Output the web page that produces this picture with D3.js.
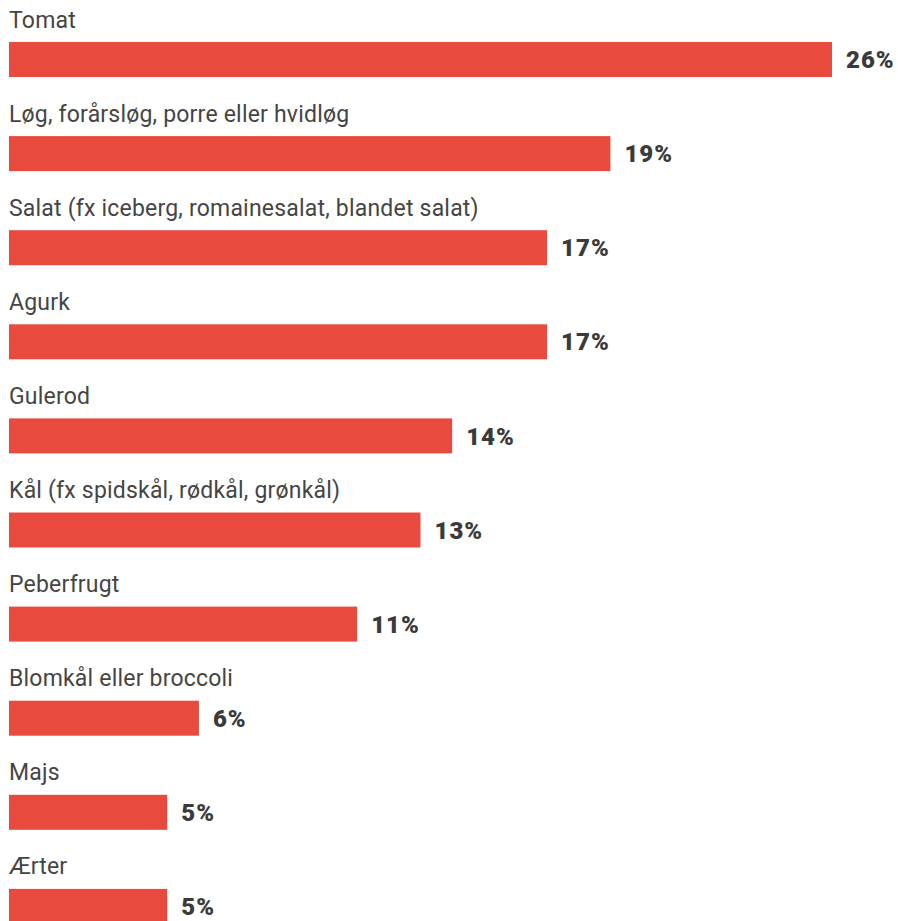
<!DOCTYPE html>
<html>
<head>
<meta charset="utf-8">
<script src="https://cdn.jsdelivr.net/npm/d3@7"></script>
<style>
  html, body { margin: 0; padding: 0; background: #fff; overflow: hidden; }
  svg { display: block; }
</style>
</head>
<body>
<svg id="chart" width="898" height="921"></svg>
<script>
// Vegetables and the share of respondents naming each one
const categories = [
  "Tomat",
  "Løg, forårsløg, porre eller hvidløg",
  "Salat (fx iceberg, romainesalat, blandet salat)",
  "Agurk",
  "Gulerod",
  "Kål (fx spidskål, rødkål, grønkål)",
  "Peberfrugt",
  "Blomkål eller broccoli",
  "Majs",
  "Ærter"
];
const values = [26, 19, 17, 17, 14, 13, 11, 6, 5, 5];
const valueLabels = ["26%", "19%", "17%", "17%", "14%", "13%", "11%", "6%", "5%", "5%"];

const svg = d3.select("#chart");
const font = "Roboto, 'Noto Sans', sans-serif";

const x = d3.scaleLinear().domain([0, 26]).range([9, 832]);
const y = d3.scaleBand().domain(categories).range([0, 941]);

const rows = svg.selectAll("g.row")
  .data(categories.map((c, i) => ({ c, v: values[i], lbl: valueLabels[i] })))
  .join("g")
  .attr("class", "row")
  .attr("transform", d => `translate(0,${y(d.c)})`);

rows.append("text")
  .attr("x", 9)
  .attr("y", 27.5)
  .attr("fill", "#454545")
  .style("font-family", font)
  .style("font-size", "23px")
  .style("letter-spacing", "0.2px")
  .text(d => d.c);

rows.append("rect")
  .attr("x", x(0))
  .attr("y", 42)
  .attr("width", d => x(d.v) - x(0))
  .attr("height", 35)
  .attr("fill", "#E84B3E");

rows.append("text")
  .attr("x", d => x(d.v) + 14)
  .attr("y", 59.5)
  .attr("dy", "0.36em")
  .attr("fill", "#3a3a3a")
  .style("font-family", font)
  .style("font-size", "24px")
  .style("font-weight", "900")
  .style("letter-spacing", "1px")
  .text(d => d.lbl);
</script>
</body>
</html>
